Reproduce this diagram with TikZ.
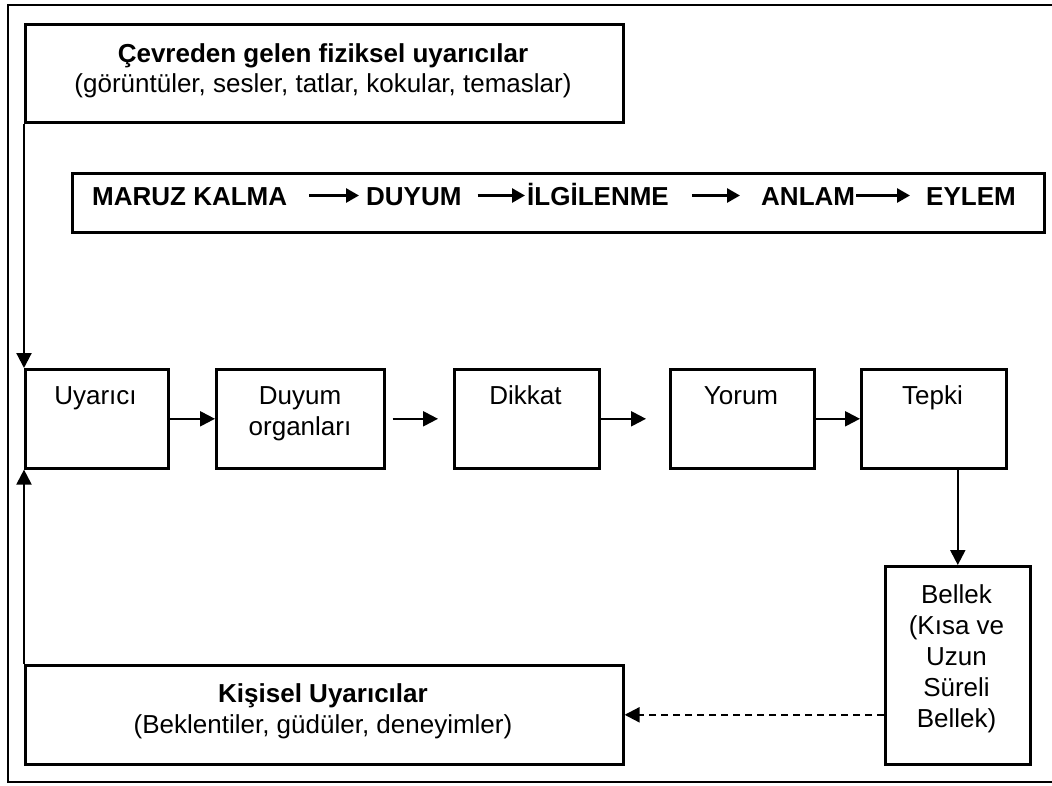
\documentclass[tikz,border=0pt]{standalone}
\usepackage{fontspec}
\setmainfont{Liberation Sans}
\usetikzlibrary{arrows.meta}
\begin{document}
\begin{tikzpicture}[x=1pt,y=-1pt,
  box/.style={draw, line width=2.6pt, inner sep=0pt, anchor=north west},
  txt/.style={inner sep=0pt, anchor=base, align=center, font=\fontsize{26}{31}\selectfont},
  boldtxt/.style={txt, font=\fontsize{26}{31}\selectfont\bfseries},
  stage/.style={inner sep=0pt, anchor=base west, text height=19pt, text depth=0pt,
    font=\fontsize{26}{31}\selectfont\bfseries},
  conn/.style={line width=2.2pt, -{Triangle[length=15pt,width=15pt]}},
  stagearrow/.style={line width=2.8pt, -{Triangle[length=13pt,width=14pt]}},
  memlink/.style={conn, dash pattern=on 7pt off 5pt}
]
\useasboundingbox (0,0) rectangle (1052,785);

% outer frame
\draw[line width=2.2pt] (1052,5) -- (8,5) -- (8,782) -- (1052,782);

% environment stimuli
\node[box, minimum width=598pt, minimum height=98pt] (env) at (24,23) {};
\node[boldtxt] (envtitle) at (323,62) {Çevreden gelen fiziksel uyarıcılar};
\node[txt] (envlist) at (323,92) {(görüntüler, sesler, tatlar, kokular, temaslar)};

% stages of perception
\node[box, minimum width=972pt, minimum height=59pt] (stages) at (71,172) {};
\node[stage] (s1) at (92,205) {MARUZ KALMA};
\node[stage] (s2) at (366,205) {DUYUM};
\node[stage] (s3) at (527,205) {İLGİLENME};
\node[stage] (s4) at (761,205) {ANLAM};
\node[stage] (s5) at (926,205) {EYLEM};
\draw[stagearrow, shorten <=22pt, shorten >=7pt] (s1.east) -- (s2.west);
\draw[stagearrow, shorten <=16pt, shorten >=2pt] (s2.east) -- (s3.west);
\draw[stagearrow, shorten <=23pt, shorten >=21pt] (s3.east) -- (s4.west);
\draw[stagearrow, shorten <=1pt, shorten >=16pt] (s4.east) -- (s5.west);

% process row
\node[box, minimum width=143pt, minimum height=99pt] (uyarici) at (24,368) {};
\node[box, minimum width=168pt, minimum height=99pt] (duyum) at (215,368) {};
\node[box, minimum width=145pt, minimum height=99pt] (dikkat) at (453,368) {};
\node[box, minimum width=144pt, minimum height=99pt] (yorum) at (669,368) {};
\node[box, minimum width=145pt, minimum height=99pt] (tepki) at (860,368) {};
\node[txt] (uyaricit) at (95.5,404) {Uyarıcı};
% multi-line nodes sit on the baseline of their last line
\node[txt] (duyumt) at (300,435) {Duyum\\organları};
\node[txt] (dikkatt) at (525.5,404) {Dikkat};
\node[txt] (yorumt) at (741,404) {Yorum};
\node[txt] (tepkit) at (932.5,404) {Tepki};

% memory and personal stimuli
\node[box, minimum width=145pt, minimum height=198pt] (bellek) at (884,565) {};
\node[txt] (bellekt) at (956.5,727) {Bellek\\(Kısa ve\\Uzun\\Süreli\\Bellek)};
\node[box, minimum width=598pt, minimum height=99pt] (kisisel) at (24,664) {};
\node[boldtxt] (kisiselt) at (323,702) {Kişisel Uyarıcılar};
\node[txt] (kisisell) at (323,733) {(Beklentiler, güdüler, deneyimler)};

% connectors
\draw[conn] (env.south west) -- (uyarici.north west);
\draw[conn] (kisisel.north west) -- (uyarici.south west);
\draw[conn] (uyarici.east) -- (duyum.west);
\draw[conn, shorten <=7pt, shorten >=15pt] (duyum.east) -- (dikkat.west);
\draw[conn, shorten >=23pt] (dikkat.east) -- (yorum.west);
\draw[conn] (yorum.east) -- (tepki.west);
\draw[conn] (bellek.north |- tepki.south) -- (bellek.north);
\draw[memlink] (kisisel.east -| bellek.west) -- (kisisel.east);
\end{tikzpicture}
\end{document}
